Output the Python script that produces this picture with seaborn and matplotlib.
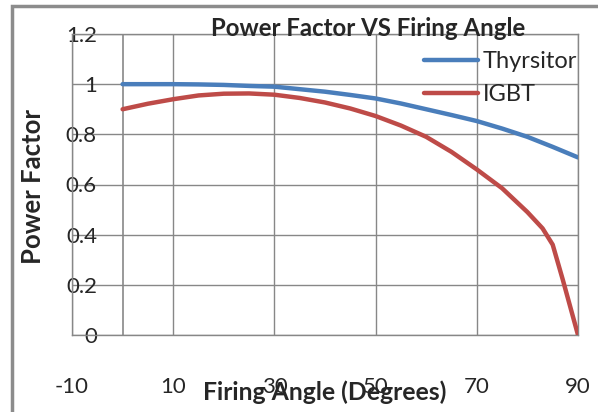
import pandas as pd
import seaborn as sns
import matplotlib.pyplot as plt
from matplotlib.patches import Rectangle

# values
thy_angle = [0, 5, 10, 15, 20, 25, 30, 35, 40, 45, 50, 55, 60, 65, 70, 75, 80, 85, 90]
thy_pf = [1.0, 1.0, 1.0, 0.999, 0.997, 0.993, 0.99, 0.98, 0.97, 0.957, 0.943,
          0.923, 0.9, 0.877, 0.853, 0.823, 0.79, 0.75, 0.708]
igbt_angle = [0, 5, 10, 15, 20, 25, 30, 35, 40, 45, 50, 55, 60, 65, 70, 75, 80, 83, 85, 87, 90]
igbt_pf = [0.9, 0.922, 0.94, 0.955, 0.962, 0.963, 0.958, 0.945, 0.927, 0.903, 0.873,
           0.835, 0.79, 0.73, 0.66, 0.585, 0.49, 0.425, 0.36, 0.22, 0.0]
xtick_vals = [-10, 10, 30, 50, 70, 90]
ytick_vals = [0, 0.2, 0.4, 0.6, 0.8, 1.0, 1.2]
ytick_labels = ['0', '0.2', '0.4', '0.6', '0.8', '1', '1.2']

df = pd.concat([
    pd.DataFrame({'angle': thy_angle, 'pf': thy_pf, 'series': 'Thyrsitor'}),
    pd.DataFrame({'angle': igbt_angle, 'pf': igbt_pf, 'series': 'IGBT'}),
])

sns.set_style('white')
plt.rcParams['font.family'] = ['Lato', 'DejaVu Sans']

fig = plt.figure(figsize=(5.98, 4.12), dpi=100)
ax = fig.add_axes([72/598, 1 - 335/412, 506/598, 301/412])

grid_c = '#878787'
sns.lineplot(data=df, x='angle', y='pf', hue='series', ax=ax, sort=False,
             palette={'Thyrsitor': '#4a7ebb', 'IGBT': '#be4b48'},
             linewidth=3.2, zorder=3)

ax.set_xlim(-10, 90)
ax.set_ylim(0, 1.2)
ax.set_xticks(xtick_vals)
ax.set_xticklabels([str(v) for v in xtick_vals])
ax.set_yticks(ytick_vals)
ax.set_yticklabels(ytick_labels)
ax.grid(True, color=grid_c, linewidth=1)
ax.axvline(0, color=grid_c, linewidth=1.2, zorder=1)
for s in ax.spines.values():
    s.set_color(grid_c)
    s.set_linewidth(1)
ax.tick_params(axis='both', length=0, labelsize=16)
ax.tick_params(axis='y', pad=-18)
for lab in ax.get_yticklabels():
    lab.set_horizontalalignment('right')
ax.tick_params(axis='x', pad=30)
ax.set_xlabel('')
ax.set_ylabel('')

fig.text(368/598, 1 - 29/412, 'Power Factor VS Firing Angle', ha='center', va='center',
         fontsize=17.3, fontweight='bold')
fig.text(325/598, 1 - 392/412, 'Firing Angle (Degrees)', ha='center', va='center',
         fontsize=17.8, fontweight='bold')
fig.text(33/598, 1 - 186/412, 'Power Factor', ha='center', va='center', rotation=90,
         fontsize=18.5, fontweight='bold')

ax.legend(frameon=False, loc='upper right', bbox_to_anchor=(577/598, 1 - 51/412),
          bbox_transform=fig.transFigure, fontsize=17, handlelength=2.3,
          handletextpad=0.2, labelspacing=0.5, borderaxespad=0, borderpad=0)

fig.patches.append(Rectangle((12/598, -0.05), 1.0, 1 - 6/412 + 0.05,
                             transform=fig.transFigure, fill=False,
                             edgecolor='#8c8c8c', linewidth=2.5))

fig.savefig('out.png', dpi=100)
